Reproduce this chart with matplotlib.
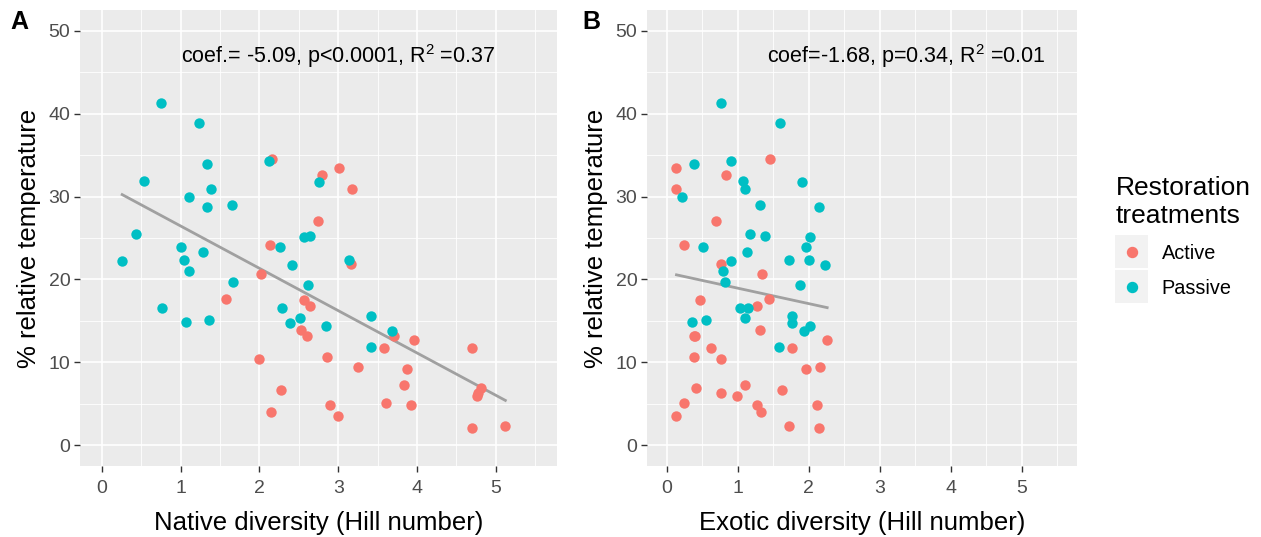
import numpy as np
import matplotlib
matplotlib.use("Agg")
import matplotlib.pyplot as plt
from matplotlib.lines import Line2D
from matplotlib.patches import Rectangle

plt.rcParams['font.family'] = ['Liberation Sans', 'DejaVu Sans']
plt.rcParams['mathtext.fontset'] = 'custom'
plt.rcParams['mathtext.rm'] = 'Liberation Sans'
plt.rcParams['mathtext.it'] = 'Liberation Sans:italic'

# Passive restoration plots
passive_temp = [41.3, 38.9, 34.3, 33.9, 31.9, 31.8, 30.9, 29.9, 29.0, 28.7, 25.5,
                25.3, 25.1, 23.9, 23.9, 23.3, 22.4, 22.4, 22.2, 21.7, 21.0, 19.7,
                19.3, 16.6, 16.5, 15.6, 15.3, 15.1, 14.9, 14.8, 14.4, 13.8, 11.8]
passive_native = [0.75, 1.24, 2.12, 1.34, 0.54, 2.76, 1.39, 1.11, 1.65, 1.34, 0.44,
                  2.64, 2.56, 1.00, 2.26, 1.29, 1.04, 3.14, 0.26, 2.42, 1.11, 1.66,
                  2.62, 2.29, 0.77, 3.41, 2.51, 1.36, 1.07, 2.39, 2.84, 3.68, 3.41]
passive_exotic = [0.77, 1.60, 0.90, 0.38, 1.07, 1.91, 1.11, 0.22, 1.32, 2.14, 1.17,
                  1.39, 2.02, 0.51, 1.96, 1.13, 1.72, 2.00, 0.90, 2.23, 0.79, 0.82,
                  1.88, 1.03, 1.15, 1.77, 1.11, 0.55, 0.36, 1.77, 2.02, 1.94, 1.58]

# Active restoration plots
active_temp = [34.5, 33.5, 32.6, 30.9, 27.1, 24.1, 21.9, 20.7, 17.7, 17.5, 16.8,
               13.9, 13.2, 13.2, 12.7, 11.7, 11.7, 10.7, 10.4, 9.5, 9.2, 7.3,
               6.95, 6.7, 6.35, 5.9, 5.06, 4.9, 4.9, 4.06, 3.5, 2.3, 2.1]
active_native = [2.16, 3.01, 2.80, 3.18, 2.74, 2.13, 3.16, 2.02, 1.58, 2.57, 2.64,
                 2.53, 2.61, 3.71, 3.96, 3.58, 4.70, 2.86, 1.99, 3.25, 3.87, 3.84,
                 4.81, 2.28, 4.77, 4.76, 3.60, 2.89, 3.92, 2.15, 3.00, 5.12, 4.70]
active_exotic = [1.46, 0.14, 0.83, 0.14, 0.69, 0.25, 0.77, 1.34, 1.44, 0.47, 1.27,
                 1.31, 0.39, 0.40, 2.26, 1.76, 0.63, 0.39, 0.77, 2.16, 1.96, 1.11,
                 0.41, 1.62, 0.77, 0.99, 0.25, 1.27, 2.12, 1.33, 0.14, 1.72, 2.14]

groups = ['Active', 'Passive']
colors = {'Active': '#F8766D', 'Passive': '#00BFC4'}
stats_text = ['coef.= -5.09, p<0.0001, R$^2$ =0.37', 'coef=-1.68, p=0.34, R$^2$ =0.01']
xlabels = ['Native diversity (Hill number)', 'Exotic diversity (Hill number)']
panel_tags = ['A', 'B']

W, H = 1261, 537
fig = plt.figure(figsize=(W / 100, H / 100), dpi=100)

# axes boxes in pixels: left, right, top, bottom
boxes = [(80, 557, 10, 466), (647, 1077, 10, 466)]
text_x = [3.0, 3.37]
tag_x = [10, 582]

data = {
    'Active': (active_native, active_exotic, active_temp),
    'Passive': (passive_native, passive_exotic, passive_temp),
}

for k in range(2):
    l, r, t, b = boxes[k]
    ax = fig.add_axes([l / W, (H - b) / H, (r - l) / W, (b - t) / H])
    ax.set_facecolor('#EBEBEB')
    for s in ax.spines.values():
        s.set_visible(False)
    ax.set_axisbelow(True)

    allx, ally = [], []
    for g in groups:
        xs = np.array(data[g][k])
        ys = np.array(data[g][2])
        ax.scatter(xs, ys, s=56, color=colors[g], linewidths=0, zorder=3)
        allx.extend(xs)
        ally.extend(ys)
    allx = np.array(allx)
    ally = np.array(ally)
    slope, icpt = np.polyfit(allx, ally, 1)
    xx = np.array([allx.min(), allx.max()])
    ax.plot(xx, slope * xx + icpt, color='#A0A0A0', lw=2, zorder=2)

    ax.set_xlim(-0.275, 5.775)
    ax.set_ylim(-2.5, 52.5)
    ax.set_xticks(np.arange(0, 6, 1))
    ax.set_xticks(np.arange(0.5, 6, 1), minor=True)
    ax.set_yticks(np.arange(0, 51, 10))
    ax.set_yticks(np.arange(5, 50, 10), minor=True)
    ax.grid(which='major', color='white', lw=1.2)
    ax.grid(which='minor', color='white', lw=0.6)
    ax.tick_params(which='major', length=4, width=1, color='#333333',
                   labelcolor='#4D4D4D', labelsize=14, pad=3)
    ax.tick_params(axis='x', which='major', pad=6)
    ax.tick_params(which='minor', length=0)

    ax.set_xlabel(xlabels[k], fontsize=18.5, labelpad=10)
    ax.set_ylabel('% relative temperature', fontsize=18.5, labelpad=5)

    ax.text(text_x[k], 47.0, stats_text[k], fontsize=15.5, ha='center', va='center')
    fig.text(tag_x[k] / W, 1 - 10 / H, panel_tags[k], fontsize=18, fontweight='bold',
             ha='left', va='top')

handles = [Line2D([], [], marker='o', ls='', color=colors[g], markersize=7.2) for g in groups]
leg = fig.legend(handles, groups, title='Restoration\ntreatments', loc='upper left',
                 bbox_to_anchor=(1108 / W, 1 - 168 / H), frameon=False, fontsize=14.3,
                 title_fontsize=19, alignment='left', handlelength=1.6,
                 handletextpad=0.7, labelspacing=0.8, borderaxespad=0)

fig.canvas.draw()
renderer = fig.canvas.get_renderer()
for h in leg.legend_handles:
    bb = h.get_window_extent(renderer)
    cx, cy = (bb.x0 + bb.x1) / 2, (bb.y0 + bb.y1) / 2
    fig.add_artist(Rectangle(((cx - 16.5) / W, (cy - 16.5) / H), 33 / W, 33 / H,
                             transform=fig.transFigure, facecolor='#F2F2F2',
                             edgecolor='none', zorder=-1))

fig.savefig('out.png', dpi=100)
